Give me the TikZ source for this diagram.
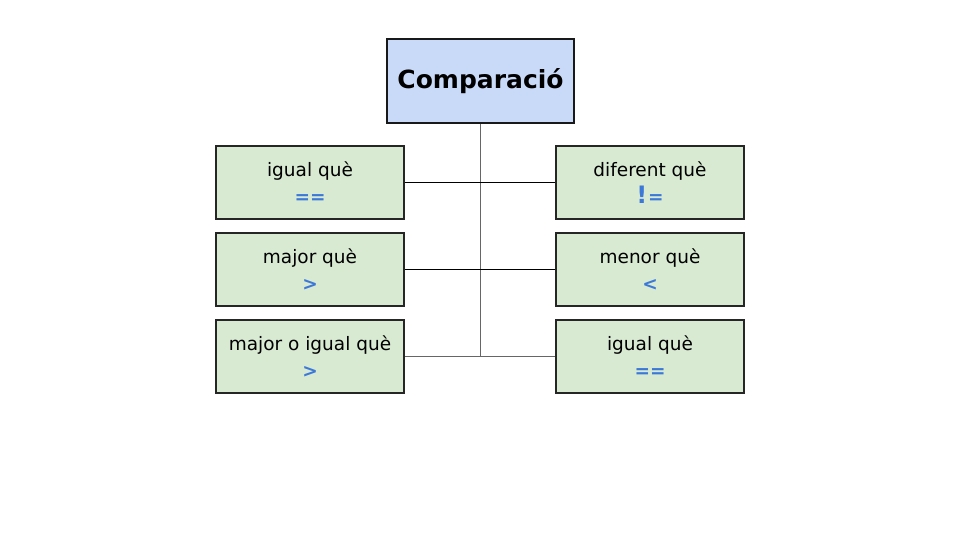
\documentclass[tikz,border=0pt]{standalone}
\usepackage{fontspec}
\setmainfont{DejaVu Sans}
\usepackage{xcolor}
\definecolor{titlefill}{HTML}{C9DAF8}
\definecolor{boxfill}{HTML}{D9EAD3}
\definecolor{opblue}{HTML}{3C78D8}
\definecolor{linegray}{HTML}{666666}

\begin{document}
\begin{tikzpicture}[x=1pt,y=-1pt,
    titlebox/.style={draw=black!90,line width=2.6pt,fill=titlefill,
      minimum width=187pt,minimum height=84pt,inner sep=0pt,
      font=\bfseries\fontsize{25}{28}\selectfont},
    opbox/.style={draw=black!85,line width=2pt,fill=boxfill,
      minimum width=188pt,minimum height=73pt,inner sep=0pt,
      align=center,font=\fontsize{18.5}{27.5}\selectfont},
    link/.style={line width=1pt,black},
    glink/.style={line width=1pt,linegray}]
    \useasboundingbox (0,0) rectangle (960,540);
    \node[titlebox] (titol) at (480.5,81) {Comparació};
    \node[opbox] (igual) at (310,182.5)
      {igual què\\\textcolor{opblue}{\bfseries ==}};
    \node[opbox] (major) at (310,269.5)
      {major què\\\textcolor{opblue}{\bfseries >}};
    \node[opbox] (majorig) at (310,356.5)
      {major o igual què\\\textcolor{opblue}{\bfseries >}};
    \node[opbox] (diferent) at (650,182.5)
      {diferent què\\\textcolor{opblue}{\bfseries{\fontsize{24}{24}\selectfont !}\hspace{1pt}=}};
    \node[opbox] (menor) at (650,269.5)
      {menor què\\\textcolor{opblue}{\bfseries <}};
    \node[opbox] (igual2) at (650,356.5)
      {igual què\\\textcolor{opblue}{\bfseries ==}};
    \coordinate (baix) at (titol.south |- majorig.east);
    \draw[glink] (titol.south) -- (baix);
    \draw[link] (igual.east) -- (diferent.west);
    \draw[link] (major.east) -- (menor.west);
    \draw[glink] (majorig.east) -- (igual2.west);
  \end{tikzpicture}
\end{document}
